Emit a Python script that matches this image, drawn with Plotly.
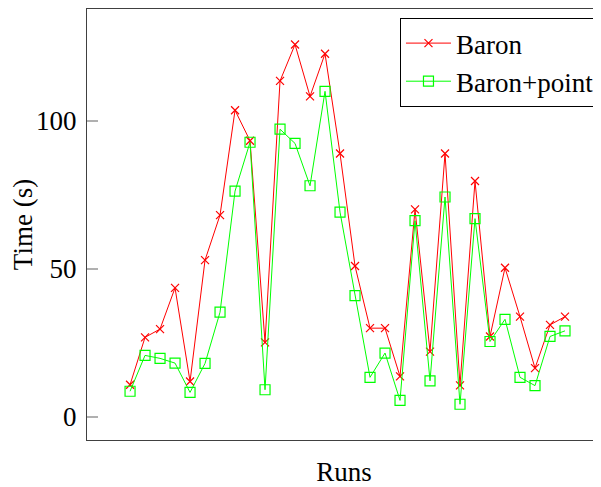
import plotly.graph_objects as go

runs = list(range(1, 31))
baron = [10.9, 26.9, 29.7, 43.6, 12.0, 53.0, 68.2, 103.6, 93.3, 25.2,
         113.5, 125.8, 108.3, 122.7, 89.0, 51.0, 30.0, 30.0, 13.7, 70.1,
         22.1, 89.0, 10.7, 79.7, 27.2, 50.4, 33.9, 16.5, 31.1, 33.9]
baron_point = [8.7, 20.8, 19.8, 18.2, 8.3, 18.1, 35.4, 76.3, 92.8, 9.2,
               97.2, 92.4, 78.1, 110.0, 69.2, 41.0, 13.4, 21.6, 5.6, 66.3,
               12.2, 74.3, 4.3, 67.0, 25.5, 33.0, 13.4, 10.6, 27.2, 29.1]
y_ticks = [0, 50, 100]

FONT = "Liberation Serif"
FS = 27
XR = [-1.87, 32.4]
YR = [-7.77, 137.8]

fig = go.Figure()
fig.add_trace(go.Scatter(
    x=runs, y=baron, mode="lines+markers", name="Baron",
    line=dict(color="#ff0000", width=1),
    marker=dict(symbol="x-thin", size=8, line=dict(color="#ff0000", width=1.2)),
))
fig.add_trace(go.Scatter(
    x=runs, y=baron_point, mode="lines+markers", name="Baron+point",
    line=dict(color="#00ff00", width=1),
    marker=dict(symbol="square-open", size=10, color="#00ff00",
                line=dict(color="#00ff00", width=1.2)),
))

# right-side inner ticks (frame's right edge lies just beyond the image)
x_right = 32.9
tick_units = 11 / 15.0
for t in y_ticks:
    fig.add_shape(type="line", xref="x", yref="y",
                  x0=x_right - tick_units, x1=x_right, y0=t, y1=t,
                  line=dict(color="#b0b0b0", width=1.5))

fig.update_layout(
    width=593, height=479,
    margin=dict(l=79, r=0, t=1, b=47),
    paper_bgcolor="white", plot_bgcolor="white",
    font=dict(family=FONT, size=FS, color="black"),
    showlegend=True,
    legend=dict(x=0.998, y=0.979, xanchor="right", yanchor="top",
                bordercolor="black", borderwidth=1, bgcolor="white",
                font=dict(family=FONT, size=FS), tracegroupgap=0,
                itemwidth=45),
    xaxis=dict(range=XR, showgrid=False, zeroline=False, showticklabels=False,
               ticks="", showline=True, linecolor="#404040", linewidth=1,
               mirror=True, automargin=False,
               title=dict(text="Runs", standoff=22,
                          font=dict(family=FONT, size=FS))),
    yaxis=dict(range=YR, showgrid=False, zeroline=False, tickvals=y_ticks,
               ticks="inside", ticklen=11, tickwidth=1.5, tickcolor="#b0b0b0",
               showline=True, linecolor="#404040", linewidth=1,
               automargin=False, ticklabelstandoff=4,
               tickfont=dict(family=FONT, size=FS),
               title=dict(text="Time (s)", standoff=0,
                          font=dict(family=FONT, size=FS))),
)

fig.write_html("out.html")
